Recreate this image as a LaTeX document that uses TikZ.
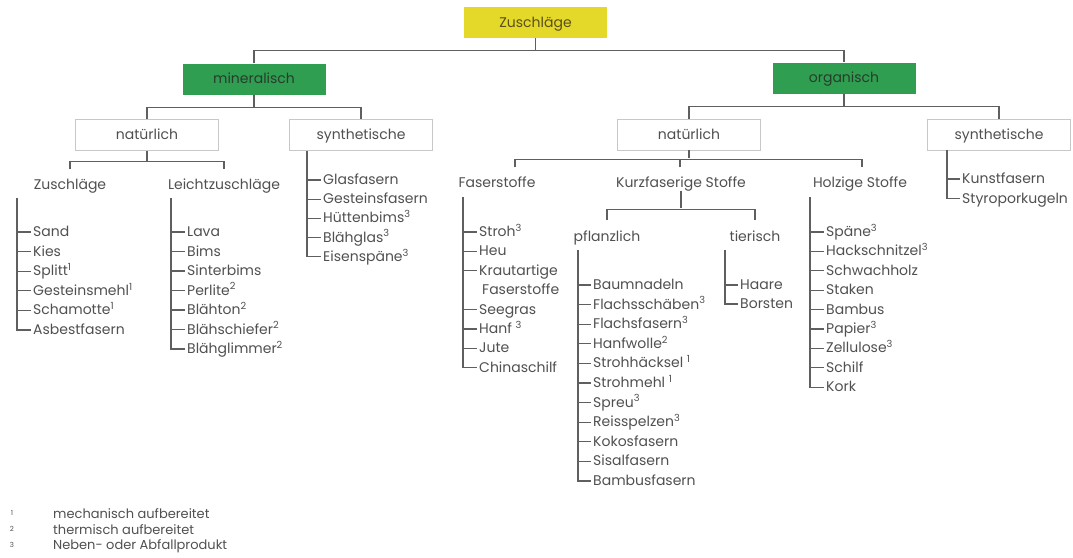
\documentclass[tikz,border=0pt]{standalone}
\usepackage{fontspec}
\setmainfont{Poppins}
\definecolor{zyellow}{RGB}{228,216,40}
\definecolor{zgreen}{RGB}{48,158,80}
\definecolor{ztext}{RGB}{80,80,80}
\definecolor{zline}{RGB}{95,95,95}
\definecolor{zborder}{RGB}{200,200,200}
\tikzset{
  box/.style={minimum width=143pt, minimum height=31pt, inner sep=0pt,
    font=\fontsize{14}{16}\selectfont, text=ztext, text height=12pt, text depth=3pt},
  topbox/.style={box, fill=zyellow, text={rgb,255:red,90;green,80;blue,30}},
  catbox/.style={box, fill=zgreen, text={rgb,255:red,40;green,60;blue,45}},
  whitebox/.style={box, fill=white, draw=zborder, line width=0.8pt},
  lbl/.style={font=\fontsize{14}{16}\selectfont, text=ztext, inner sep=0pt,
    text height=12pt, text depth=3pt},
  item/.style={lbl, anchor=west, inner xsep=2pt},
  fn/.style={font=\fontsize{13}{15}\selectfont, text=ztext, anchor=west, inner sep=0pt},
  fnnum/.style={font=\fontsize{7}{8}\selectfont, text=ztext, inner sep=0pt},
  conn/.style={draw=zline, line width=1.1pt},
}
\begin{document}
\begin{tikzpicture}[x=1pt,y=-1pt]
\useasboundingbox (0,0) rectangle (1073,557);

% top levels
\node[topbox] (root) at (535.5,22.5) {Zuschläge};
\node[catbox] (min) at (254,79) {mineralisch};
\node[catbox] (org) at (844,78) {organisch};
\node[whitebox] (minnat) at (147,135) {natürlich};
\node[whitebox] (minsyn) at (361,135) {synthetische};
\node[whitebox] (orgnat) at (689,134.5) {natürlich};
\node[whitebox] (orgsyn) at (999,134.5) {synthetische};

\draw[conn] (root.south) -- ++(0,13);
\draw[conn] (min.north) -- ++(0,-13) -| (org.north);
\draw[conn] (min.south) -- ++(0,13.5);
\draw[conn] (minnat.north) -- ++(0,-12) -| (minsyn.north);
\draw[conn] (org.south) -- ++(0,13);
\draw[conn] (orgnat.north) -- ++(0,-12.5) -| (orgsyn.north);

% mineralisch / natuerlich
\node[lbl] (zu) at (70,185) {Zuschläge};
\node[lbl] (lz) at (224,185) {Leichtzuschläge};
\draw[conn] (minnat.south) -- ++(0,10);
\draw[conn] ([yshift=8pt]zu.north) -- ++(0,-8) -| ([yshift=8pt]lz.north);

\coordinate (zuL) at (17,198);
\foreach \t [count=\k] in {Sand,Kies,Splitt\textsuperscript{1},Gesteinsmehl\textsuperscript{1},Schamotte\textsuperscript{1},Asbestfasern}{
  \node[item] (zu\k) at (31,{212.4+19.6*\k}) {\t};
  \draw[conn] (zuL |- zu\k.west) -- (zu\k.west);
}
\draw[conn] (zuL) |- (zu6.west);

\coordinate (lzL) at (171,198);
\foreach \t [count=\k] in {Lava,Bims,Sinterbims,Perlite\textsuperscript{2},Blähton\textsuperscript{2},Blähschiefer\textsuperscript{2},Blähglimmer\textsuperscript{2}}{
  \node[item] (lz\k) at (185,{212.5+19.5*\k}) {\t};
  \draw[conn] (lzL |- lz\k.west) -- (lz\k.west);
}
\draw[conn] (lzL) |- (lz7.west);

% mineralisch / synthetische
\coordinate (msL) at (307,150.5);
\foreach \t [count=\k] in {Glasfasern,Gesteinsfasern,Hüttenbims\textsuperscript{3},Blähglas\textsuperscript{3},Eisenspäne\textsuperscript{3}}{
  \node[item] (ms\k) at (321,{160.8+19.2*\k}) {\t};
  \draw[conn] (msL |- ms\k.west) -- (ms\k.west);
}
\draw[conn] (msL) |- (ms5.west);

% organisch / natuerlich
\node[lbl] (fs) at (497,183) {Faserstoffe};
\node[lbl] (kf) at (681,183) {Kurzfaserige Stoffe};
\node[lbl] (hs) at (860,183) {Holzige Stoffe};
\draw[conn] (orgnat.south) -- ++(0,8);
\draw[conn] ([xshift=18pt,yshift=8pt]fs.north) -- ++(0,-8) -| ([xshift=2pt,yshift=8pt]hs.north);
\draw[conn] ([xshift=-1pt,yshift=8pt]kf.north) -- ++(0,-8);

\coordinate (fsL) at (463,197);
\foreach \t [count=\k] in {Stroh\textsuperscript{3},Heu,Krautartige}{
  \node[item] (fs\k) at (477,{212.6+19.4*\k}) {\t};
  \draw[conn] (fsL |- fs\k.west) -- (fs\k.west);
}
\node[item] (fs4) at (480,290.2) {Faserstoffe};
\foreach \t [count=\k from 5] in {Seegras,Hanf \textsuperscript{3},Jute,Chinaschilf}{
  \node[item] (fs\k) at (477,{212.6+19.4*\k}) {\t};
  \draw[conn] (fsL |- fs\k.west) -- (fs\k.west);
}
\draw[conn] (fsL) |- (fs8.west);

% Kurzfaserige Stoffe
\node[lbl] (pf) at (607,237) {pflanzlich};
\node[lbl] (ti) at (755,237) {tierisch};
\draw[conn] (kf.south) -- ++(0,17);
\draw[conn] ([yshift=9pt]pf.north) -- ++(0,-11) -| ([yshift=9pt]ti.north);

\coordinate (pfL) at (578,250);
\foreach \t [count=\k] in {Baumnadeln,Flachsschäben\textsuperscript{3},Flachsfasern\textsuperscript{3},Hanfwolle\textsuperscript{2},Strohhäcksel \textsuperscript{1},Strohmehl \textsuperscript{1},Spreu\textsuperscript{3},Reisspelzen\textsuperscript{3},Kokosfasern,Sisalfasern,Bambusfasern}{
  \node[item] (pf\k) at (591,{265.4+19.6*\k}) {\t};
  \draw[conn] (pfL |- pf\k.west) -- (pf\k.west);
}
\draw[conn] (pfL) |- (pf11.west);

\coordinate (tiL) at (725,250);
\foreach \t [count=\k] in {Haare,Borsten}{
  \node[item] (ti\k) at (738,{266+19*\k}) {\t};
  \draw[conn] (tiL |- ti\k.west) -- (ti\k.west);
}
\draw[conn] (tiL) |- (ti2.west);

% Holzige Stoffe
\coordinate (hsL) at (810,197);
\foreach \t [count=\k] in {Späne\textsuperscript{3},Hackschnitzel\textsuperscript{3},Schwachholz,Staken,Bambus,Papier\textsuperscript{3},Zellulose\textsuperscript{3},Schilf,Kork}{
  \node[item] (hs\k) at (824,{212.6+19.4*\k}) {\t};
  \draw[conn] (hsL |- hs\k.west) -- (hs\k.west);
}
\draw[conn] (hsL) |- (hs9.west);

% organisch / synthetische
\coordinate (osL) at (947,150);
\foreach \t [count=\k] in {Kunstfasern,Styroporkugeln}{
  \node[item] (os\k) at (960,{159.5+19.5*\k}) {\t};
  \draw[conn] (osL |- os\k.west) -- (os\k.west);
}
\draw[conn] (osL) |- (os2.west);

% footnotes
\node[fnnum] (n1) at (12,513) {1};
\node[fnnum] (n2) at (12,529) {2};
\node[fnnum] (n3) at (12,545) {3};
\node[fn] (f1) at (53,514) {mechanisch aufbereitet};
\node[fn] (f2) at (53,530) {thermisch aufbereitet};
\node[fn] (f3) at (53,546) {Neben- oder Abfallprodukt};
\end{tikzpicture}
\end{document}
